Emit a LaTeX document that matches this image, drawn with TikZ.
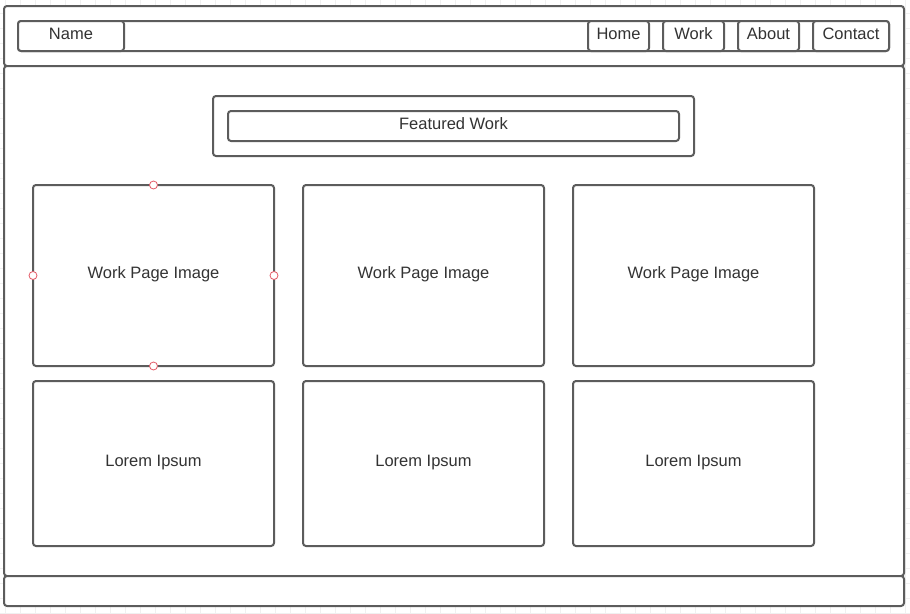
\documentclass[tikz,border=0pt]{standalone}
\usepackage{fontspec}
\setmainfont{Liberation Sans}
\definecolor{frame}{HTML}{5C5C5C}
\definecolor{txt}{HTML}{333333}
\definecolor{gridc}{HTML}{F0F0F0}
\definecolor{handle}{HTML}{E45A66}
\begin{document}
\begin{tikzpicture}[x=1pt,y=-1pt,
  box/.style={draw=frame, line width=2pt, rounded corners=3pt, fill=white,
    rectangle, inner sep=0pt, outer sep=0pt, anchor=north west, text=txt,
    font=\fontsize{16.5}{18}\selectfont, text height=11.8pt, text depth=5pt},
  handlept/.style={circle, draw=handle, fill=white, line width=0.8pt,
    inner sep=0pt, minimum size=8pt}]
\useasboundingbox (0,0) rectangle (910,613);
% background grid
\foreach \gx in {5,20,...,905} \draw[gridc, line width=0.6pt] (\gx,0) -- (\gx,613);
\foreach \gy in {13,28,...,613} \draw[gridc, line width=0.6pt] (0,\gy) -- (910,\gy);

% page frame: header, body, footer
\node[box, minimum width=900pt, minimum height=60pt] (header) at (4,6) {};
\node[box, minimum width=900pt, minimum height=510pt] (body) at (4,66) {};
\node[box, minimum width=900pt, minimum height=30pt] (footer) at (4,576) {};

% navigation bar
\node[box, minimum width=871pt, minimum height=30pt] (navbar) at (18,21) {};
\node[box, minimum width=106pt, minimum height=30pt] (name) at (18,21) {Name};
\node[box, minimum width=61pt, minimum height=30pt] (home) at (588,21) {Home};
\node[box, minimum width=61pt, minimum height=30pt] (work) at (663,21) {Work};
\node[box, minimum width=61pt, minimum height=30pt] (about) at (738,21) {About};
\node[box, minimum width=76pt, minimum height=30pt] (contact) at (813,21) {Contact};

% featured heading
\node[box, minimum width=481pt, minimum height=60pt] (featouter) at (213,96) {};
\node[box, minimum width=451pt, minimum height=30pt] (featured) at (228,111) {Featured Work};

% work cards
\foreach \i/\cx in {1/33,2/303,3/573} {
  \node[box, minimum width=241pt, minimum height=181pt] (img\i) at (\cx,185) {Work Page Image};
  \node[box, minimum width=241pt, minimum height=165pt] (txt\i) at (\cx,381) {Lorem Ipsum};
}

% selection handles on the first card
\node[handlept] (hn) at (img1.north) {};
\node[handlept] (hs) at (img1.south) {};
\node[handlept] (hw) at (img1.west) {};
\node[handlept] (he) at (img1.east) {};
\end{tikzpicture}
\end{document}
